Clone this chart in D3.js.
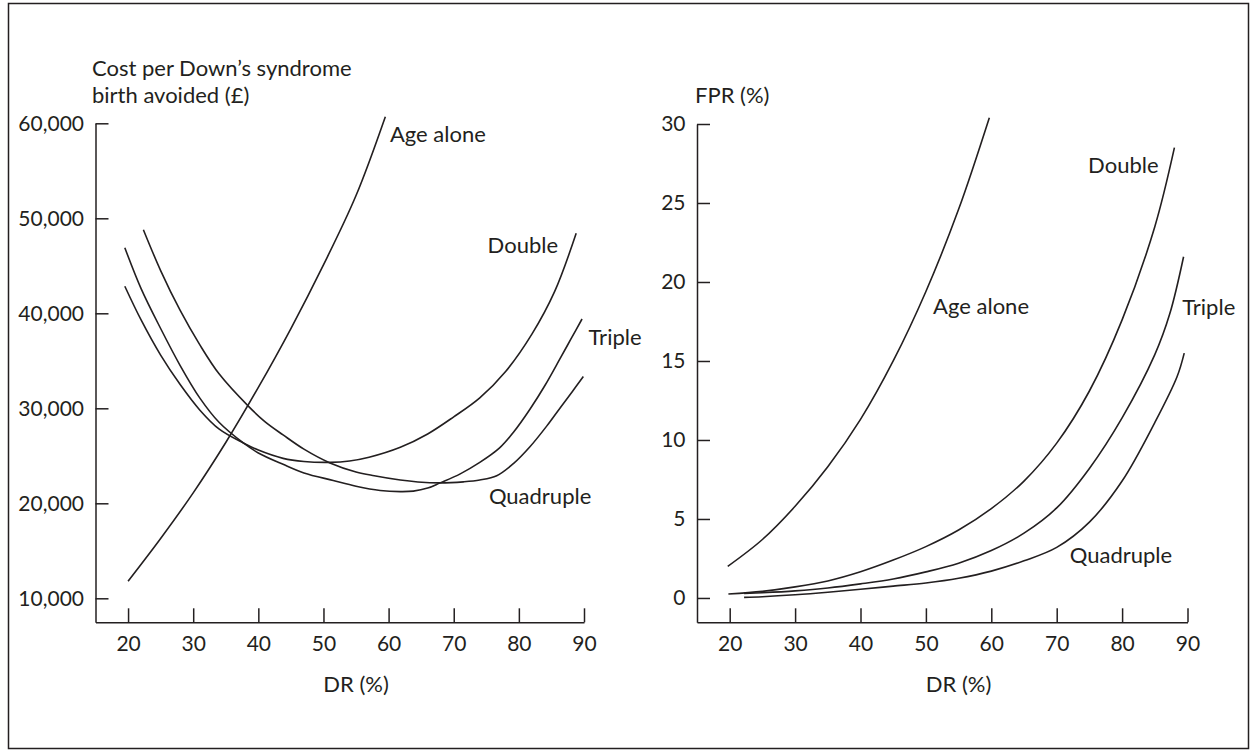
<!DOCTYPE html>
<html>
<head>
<meta charset="utf-8">
<script src="https://cdn.jsdelivr.net/npm/d3@7"></script>
<style>
  html, body { margin: 0; padding: 0; background: #fff; }
  svg { display: block; }
  text { font-family: Lato, "Open Sans", sans-serif; fill: #231f20; }
</style>
</head>
<body>
<svg id="chart" width="1252" height="752"></svg>
<script>
// Detection rate (DR, %) ticks shared by both panels
const drTicks = [20, 30, 40, 50, 60, 70, 80, 90];
const costTicks = [10000, 20000, 30000, 40000, 50000, 60000];
const fprTicks = [0, 5, 10, 15, 20, 25, 30];

// Cost per Down's syndrome birth avoided (£) against DR (%)
const costAgeAlone = [[20,11800],[25,16300],[30,21100],[35,26400],[40,32200],[45,38400],[50,45100],[55,52400],[59.5,60700]];
const costDouble = [[19.5,42850],[22,39300],[25,35600],[28,32500],[31,29830],[34,27800],[37.7,26350],[40,25600],[43.8,24730],[47,24400],[51,24310],[54,24450],[57,24850],[61.8,25900],[66,27300],[70,29100],[74,31100],[78,33900],[82,37800],[85.5,42300],[88.8,48420]];
const costTriple = [[19.5,46900],[22,42600],[25,38400],[28,34500],[31,31100],[34,28500],[37.7,26350],[40,25300],[43.8,24100],[47,23200],[51.5,22400],[55,21800],[58.7,21350],[61.8,21230],[63.8,21280],[66,21600],[67.9,22150],[71,23100],[74,24300],[77,25800],[79.2,27500],[81.7,29900],[84,32400],[86.3,35200],[88,37300],[89.7,39400]];
const costQuadruple = [[22.35,48800],[25,44500],[28,40300],[31,36700],[34,33600],[38.5,30200],[41,28600],[43.8,27200],[47,25700],[51,24250],[55,23300],[57.8,22900],[61.8,22450],[64.5,22250],[67.9,22150],[71.5,22260],[74,22450],[76.6,22900],[79.2,24200],[81.7,25950],[84.3,28150],[86.5,30200],[88.3,31850],[89.9,33350]];

// False positive rate (FPR, %) against DR (%)
const fprAgeAlone = [[19.7,2.0],[25,3.7],[30,5.8],[35,8.3],[40,11.3],[45,15.0],[50,19.4],[55,24.6],[59.7,30.4]];
const fprDouble = [[19.8,0.25],[25,0.42],[30,0.7],[35,1.08],[40,1.66],[45,2.4],[50,3.25],[55,4.3],[60,5.65],[65,7.4],[70,9.8],[75,13.1],[80,17.6],[85,23.5],[88,28.5]];
const fprTriple = [[22.2,0.28],[25,0.33],[30,0.45],[35,0.63],[40,0.89],[45,1.2],[50,1.65],[55,2.2],[60,3.0],[65,4.1],[70,5.7],[75,8.2],[80,11.4],[85,15.4],[87.3,18.0],[89.4,21.6]];
const fprQuadruple = [[22.2,0.04],[25,0.08],[30,0.2],[35,0.36],[40,0.55],[45,0.75],[50,0.95],[55,1.25],[60,1.7],[65,2.35],[70,3.2],[75,4.8],[80,7.4],[85,11.1],[88.4,14.0],[89.5,15.5]];

const seriesNames = ["Age alone", "Double", "Triple", "Quadruple"];

const ink = "#231f20";
const tickFont = 21;
const labelFont = 22;
const svg = d3.select("#chart");

// outer frame
svg.append("rect")
  .attr("x", 8.5).attr("y", 3.5)
  .attr("width", 1240).attr("height", 745)
  .attr("fill", "none").attr("stroke", ink).attr("stroke-width", 1.5);

function drawPanel(cfg) {
  const g = svg.append("g");
  const x = d3.scaleLinear().domain([15, 90]).range([cfg.left, cfg.right]);
  const y = d3.scaleLinear().domain(cfg.yDomain).range([cfg.bottom, cfg.top]);

  const xAxis = g.append("g")
    .attr("transform", `translate(0,${cfg.bottom})`)
    .call(d3.axisBottom(x).tickValues(drTicks).tickSize(-14).tickSizeOuter(0).tickPadding(14));
  const yAxis = g.append("g")
    .attr("transform", `translate(${cfg.left},0)`)
    .call(d3.axisLeft(y).tickValues(cfg.yTicks).tickFormat(cfg.yFormat)
      .tickSize(-13).tickSizeOuter(0).tickPadding(11.5));

  [xAxis, yAxis].forEach(a => {
    a.attr("font-size", null).attr("font-family", null);
    a.selectAll("path, line").attr("stroke", ink).attr("stroke-width", 1.5);
    a.selectAll("text").style("font-size", tickFont + "px").attr("fill", ink);
  });

  // x-axis title
  g.append("text")
    .attr("x", x(55)).attr("y", 692)
    .attr("text-anchor", "middle")
    .style("font-size", labelFont + "px")
    .text("DR (%)");

  // y-axis title lines
  cfg.yTitle.forEach((t, i) => {
    g.append("text")
      .attr("x", cfg.titleX).attr("y", cfg.titleY + i * 27)
      .style("font-size", labelFont + "px")
      .text(t);
  });

  const line = d3.line()
    .x(d => x(d[0]))
    .y(d => y(d[1]))
    .curve(d3.curveCatmullRom.alpha(0.5));

  cfg.series.forEach((s, i) => {
    g.append("path")
      .datum(s)
      .attr("d", line)
      .attr("fill", "none")
      .attr("stroke", ink)
      .attr("stroke-width", 1.6);
    const a = cfg.labelAt[i];
    g.append("text")
      .attr("x", x(a[0])).attr("y", y(a[1]))
      .style("font-size", labelFont + "px")
      .text(seriesNames[i]);
  });
}

drawPanel({
  left: 95.5, right: 584, top: 123.3, bottom: 622.3,
  yDomain: [7474, 60000],
  yTicks: costTicks,
  yFormat: d3.format(","),
  yTitle: ["Cost per Down\u2019s syndrome", "birth avoided (\u00a3)"],
  titleX: 92, titleY: 76,
  series: [costAgeAlone, costDouble, costTriple, costQuadruple],
  labelAt: [[60.2, 58030], [75.2, 46350], [90.7, 36660], [75.4, 19930]]
});

drawPanel({
  left: 697, right: 1187.5, top: 124, bottom: 622.3,
  yDomain: [-1.54, 30],
  yTicks: fprTicks,
  yFormat: d3.format("d"),
  yTitle: ["FPR (%)"],
  titleX: 695, titleY: 103,
  series: [fprAgeAlone, fprDouble, fprTriple, fprQuadruple],
  labelAt: [[51.1, 18.0], [74.8, 26.9], [89.2, 17.9], [72.0, 2.2]]
});
</script>
</body>
</html>
